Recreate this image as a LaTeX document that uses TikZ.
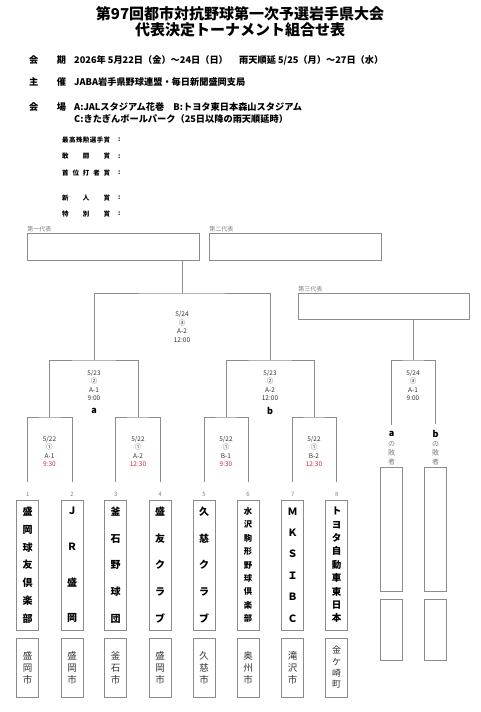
\documentclass[tikz,border=0pt]{standalone}
\usepackage{fontspec}
\setmainfont{Noto Sans CJK JP}
\usepackage{xcolor}
\usepackage{tikz}
\usetikzlibrary{positioning}
\definecolor{linegray}{HTML}{8C8C8C}
\definecolor{timered}{HTML}{C8283C}
\definecolor{textgray}{HTML}{333333}

\begin{document}
\begin{tikzpicture}[
    x=1pt, y=-1pt,
    line/.style={draw=linegray, line width=0.7pt},
    title/.style={font=\bfseries\fontsize{15}{17}\selectfont, inner sep=0pt},
    head/.style={font=\bfseries\fontsize{9.2}{11}\selectfont, anchor=west, inner sep=0pt},
    award/.style={font=\bfseries\fontsize{6.5}{8}\selectfont, anchor=west, inner sep=0pt},
    repbox/.style={rectangle, draw=linegray, line width=0.7pt, minimum width=172pt, minimum height=27pt, inner sep=0pt},
    replabel/.style={font=\fontsize{6}{7}\selectfont, text=gray, inner sep=0.5pt, anchor=south west},
    match/.style={align=center, font=\fontsize{6.5}{8.6}\selectfont, text=textgray, inner sep=0pt},
    winner/.style={font=\bfseries\fontsize{9}{10}\selectfont, inner sep=1pt},
    num/.style={font=\fontsize{6}{7}\selectfont, text=gray, inner sep=1pt, outer ysep=8.5pt},
    team/.style={rectangle, draw=linegray, line width=0.7pt, minimum width=22pt, minimum height=130pt, inner sep=0pt, align=center, font=\bfseries\fontsize{10}{#1}\selectfont},
    city/.style={rectangle, draw=linegray, line width=0.7pt, minimum width=22pt, minimum height=59pt, inner sep=0pt, align=center, text=textgray, font=\fontsize{9.5}{#1}\selectfont},
    loser/.style={align=center, text=gray, font=\fontsize{7}{9}\selectfont, inner sep=0pt},
]
\useasboundingbox (0,0) rectangle (480,712);
% title
\node[title] (title1) at (240,14) {第97回都市対抗野球第一次予選岩手県大会};
\node[title] (title2) at (240,30) {代表決定トーナメント組合せ表};
% outline
\node[head] (kaiki) at (29,60) {\makebox[37pt][s]{会\hfill{}期}};
\node[head] (kaikiTxt) at (74,60) {2026年 5月22日（金）～24日（日）　 雨天順延 5/25（月）～27日（水）};
\node[head] (shusai) at (29,82) {\makebox[37pt][s]{主\hfill{}催}};
\node[head] (shusaiTxt) at (74,82) {JABA岩手県野球連盟・毎日新聞盛岡支局};
\node[head] (kaijo) at (29,107) {\makebox[37pt][s]{会\hfill{}場}};
\node[head] (kaijoTxt) at (74,107) {A:JALスタジアム花巻　B:トヨタ東日本森山スタジアム};
\node[head] (kaijoTxt2) at (74,119) {C:きたぎんボールパーク（25日以降の雨天順延時）};
% awards
\node[award] (mvp) at (62,140) {\makebox[48pt][s]{最\hfill{}高\hfill{}殊\hfill{}勲\hfill{}選\hfill{}手\hfill{}賞}};
\node[award] (kanto) at (62,156.5) {\makebox[48pt][s]{敢\hfill{}闘\hfill{}賞}};
\node[award] (shui) at (62,173) {\makebox[48pt][s]{首\hfill{}位\hfill{}打\hfill{}者\hfill{}賞}};
\node[award] (shinjin) at (62,198) {\makebox[48pt][s]{新\hfill{}人\hfill{}賞}};
\node[award] (tokubetsu) at (62,214) {\makebox[48pt][s]{特\hfill{}別\hfill{}賞}};
\node[award] at (118,140) {:};
\node[award] at (118,156.5) {:};
\node[award] at (118,173) {:};
\node[award] at (118,198) {:};
\node[award] at (118,214) {:};
% representatives
\node[repbox] (rep1) at (113,246.5) {};
\node[replabel] at (rep1.north west) {第一代表};
\node[repbox] (rep2) at (295,246.5) {};
\node[replabel] at (rep2.north west) {第二代表};
\node[repbox, minimum width=171pt, minimum height=26pt] (rep3) at (383.5,306) {};
\node[replabel] at (rep3.north west) {第三代表};
% games
\node[match] (g7) at (182,327) {5/24\\③\\A-2\\12:00};
\node[match] (g5) at (94,385.5) {5/23\\②\\A-1\\9:00};
\node[match] (g6) at (270,385.5) {5/23\\②\\A-2\\12:00};
\node[match] (g8) at (413,385.5) {5/24\\③\\A-1\\9:00};
\node[winner] (wa) at (94,411) {a};
\node[winner] (wb) at (270,411) {b};
\node[match] (g1) at (49.5,451.5) {5/22\\①\\A-1\\\textcolor{timered}{9:30}};
\node[match] (g2) at (138,451.5) {5/22\\①\\A-2\\\textcolor{timered}{12:30}};
\node[match] (g3) at (226,451.5) {5/22\\①\\B-1\\\textcolor{timered}{9:30}};
\node[match] (g4) at (314,451.5) {5/22\\①\\B-2\\\textcolor{timered}{12:30}};
% numbers
\node[num] (num1) at (27.7,494) {1};
\node[num] (num2) at (72,494) {2};
\node[num] (num3) at (115.7,494) {3};
\node[num] (num4) at (160,494) {4};
\node[num] (num5) at (204,494) {5};
\node[num] (num6) at (248,494) {6};
\node[num] (num7) at (292.7,494) {7};
\node[num] (num8) at (336.7,494) {8};
% teams
\node[team=17.8] (t1) at (27.7,565) {盛\\岡\\球\\友\\倶\\楽\\部};
\node[team=35.7] (t2) at (72,565) {Ｊ\\Ｒ\\盛\\岡};
\node[team=26.8] (t3) at (115.7,565) {釜\\石\\野\\球\\団};
\node[team=26.8] (t4) at (160,565) {盛\\友\\ク\\ラ\\ブ};
\node[team=26.8] (t5) at (204,565) {久\\慈\\ク\\ラ\\ブ};
\node[team=13.4, font=\bfseries\fontsize{8.3}{13.4}\selectfont] (t6) at (248,565) {水\\沢\\駒\\形\\野\\球\\倶\\楽\\部};
\node[team=21.4] (t7) at (292.7,565) {Ｍ\\Ｋ\\Ｓ\\Ｉ\\Ｂ\\Ｃ};
\node[team=13.4, font=\bfseries\fontsize{9.5}{13.4}\selectfont] (t8) at (336.7,565) {ト\\ヨ\\タ\\自\\動\\車\\東\\日\\本};
\node[city=12] (c1) at (27.7,667.5) {盛\\岡\\市};
\node[city=12] (c2) at (72,667.5) {盛\\岡\\市};
\node[city=12] (c3) at (115.7,667.5) {釜\\石\\市};
\node[city=12] (c4) at (160,667.5) {盛\\岡\\市};
\node[city=12] (c5) at (204,667.5) {久\\慈\\市};
\node[city=12] (c6) at (248,667.5) {奥\\州\\市};
\node[city=12] (c7) at (292.7,667.5) {滝\\沢\\市};
\node[city=11.3, font=\fontsize{9}{11.3}\selectfont] (c8) at (336.7,667.5) {金\\ケ\\崎\\町};
% third place
\node[winner, outer ysep=5pt] (la) at (391.5,434) {a};
\node[loser] (na) at (391.5,453) {の\\敗\\者};
\node[winner, outer ysep=5pt] (lb) at (435.5,434) {b};
\node[loser] (nb) at (435.5,453) {の\\敗\\者};
\node[team=10, minimum height=124pt] (xa) at (391.5,529) {};
\node[team=10, minimum height=124pt] (xb) at (435.5,529) {};
\node[city=10, minimum height=61pt] (xac) at (391.5,629.5) {};
\node[city=10, minimum height=61pt] (xbc) at (435.5,629.5) {};
% bracket points
\coordinate (r1) at (49.5,417);
\coordinate (r2) at (138,417);
\coordinate (r3) at (226,417);
\coordinate (r4) at (314,417);
\coordinate (s1) at (94,360);
\coordinate (s2) at (270,360);
\coordinate (fin) at (182,293);
\coordinate (third) at (413,360);
\draw[line] (num1.north) |- (r1) -| (num2.north);
\draw[line] (num3.north) |- (r2) -| (num4.north);
\draw[line] (num5.north) |- (r3) -| (num6.north);
\draw[line] (num7.north) |- (r4) -| (num8.north);
\draw[line] (r1) |- (s1) -| (r2);
\draw[line] (r3) |- (s2) -| (r4);
\draw[line] (s1) |- (fin) -| (s2);
\draw[line] (fin) -- (fin |- rep1.south);
\draw[line] (la.north) |- (third) -| (lb.north);
\draw[line] (third) -- (third |- rep3.south);
\end{tikzpicture}
\end{document}
